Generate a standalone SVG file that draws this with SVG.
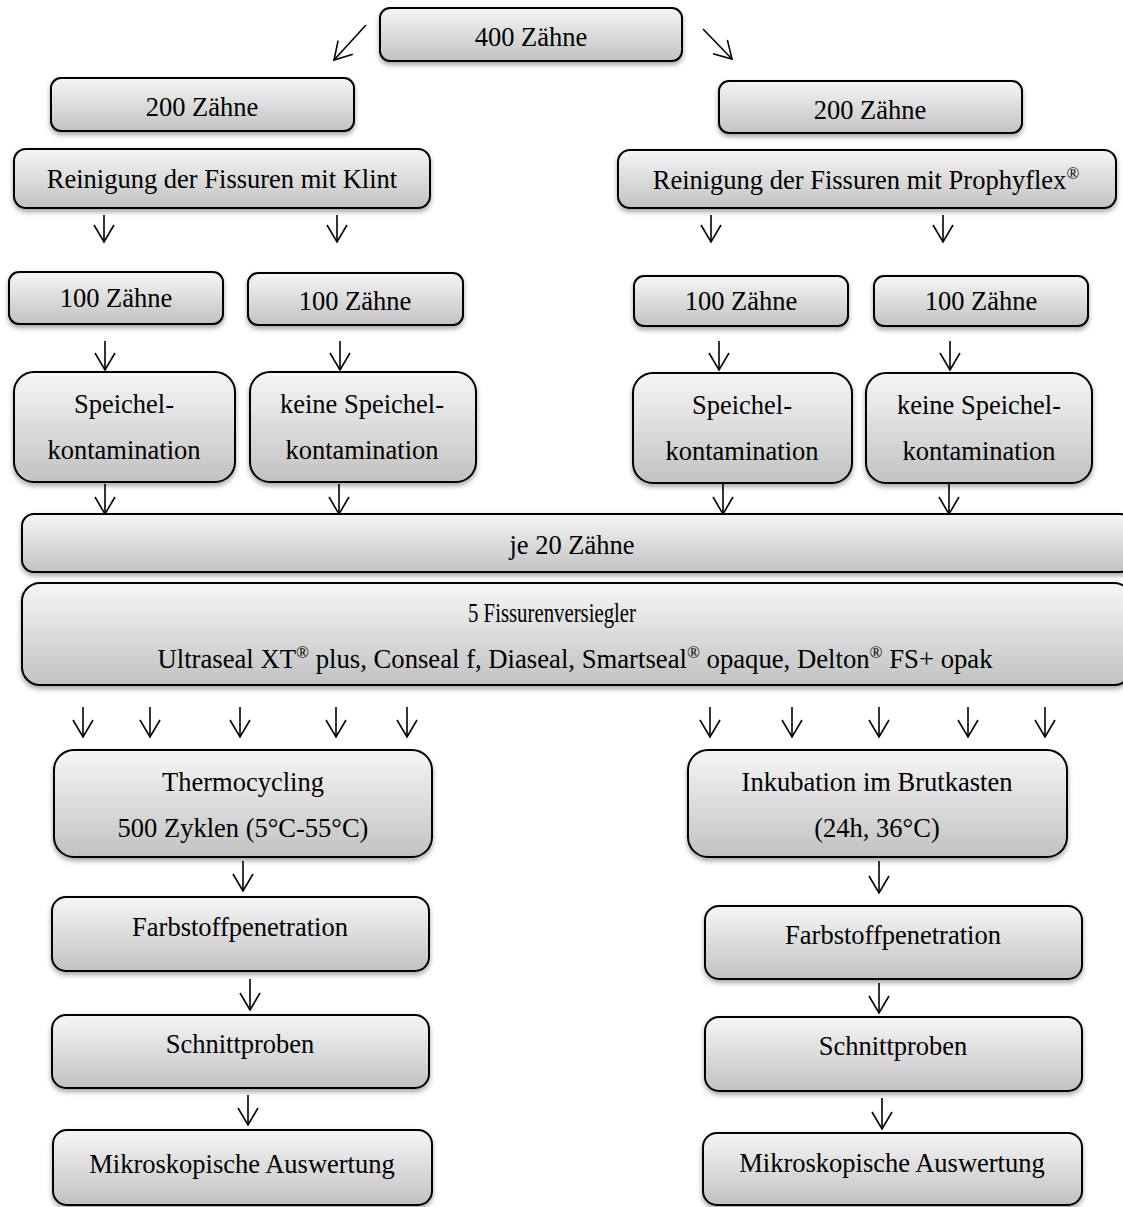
<svg xmlns="http://www.w3.org/2000/svg" width="1123" height="1207" viewBox="0 0 1123 1207">
<defs>
<linearGradient id="g" x1="0" y1="0" x2="0" y2="1">
<stop offset="0" stop-color="#f6f6f6"/>
<stop offset="1" stop-color="#c2c2c2"/>
</linearGradient>
<filter id="sh" x="-5%" y="-10%" width="110%" height="130%">
<feDropShadow dx="0" dy="3" stdDeviation="2.5" flood-color="#000" flood-opacity="0.35"/>
</filter>
<marker id="ah" viewBox="-1 -1 20 22" refX="17" refY="10" markerWidth="20" markerHeight="22" markerUnits="userSpaceOnUse" orient="auto">
<path d="M0,0 L17,10 L0,20" fill="none" stroke="#000" stroke-width="1.6"/>
</marker>
</defs>
<style>
.b{fill:url(#g);stroke:#000;stroke-width:2;filter:url(#sh)}
.t{font-family:"Liberation Serif","Times New Roman",serif;font-size:26.5px;fill:#000;text-anchor:middle}
.a{stroke:#000;stroke-width:1.6;fill:none;marker-end:url(#ah)}
.sup{font-size:17px}
</style>
<rect width="1123" height="1207" fill="#fff"/>
<g id="connectors">
<line class="a" x1="366" y1="25" x2="334" y2="60"/>
<line class="a" x1="703" y1="29" x2="732" y2="59"/>
<line class="a" x1="104" y1="215" x2="104" y2="242"/>
<line class="a" x1="337" y1="215" x2="337" y2="242"/>
<line class="a" x1="711" y1="215" x2="711" y2="242"/>
<line class="a" x1="943" y1="215" x2="943" y2="242"/>
<line class="a" x1="105" y1="341" x2="105" y2="370"/>
<line class="a" x1="340" y1="341" x2="340" y2="370"/>
<line class="a" x1="719" y1="341" x2="719" y2="370"/>
<line class="a" x1="950" y1="341" x2="950" y2="370"/>
<line class="a" x1="105" y1="484" x2="105" y2="514"/>
<line class="a" x1="339" y1="484" x2="339" y2="514"/>
<line class="a" x1="723" y1="484" x2="723" y2="514"/>
<line class="a" x1="949" y1="484" x2="949" y2="514"/>
<line class="a" x1="83" y1="707" x2="83" y2="737"/>
<line class="a" x1="150" y1="707" x2="150" y2="737"/>
<line class="a" x1="240" y1="707" x2="240" y2="737"/>
<line class="a" x1="336" y1="707" x2="336" y2="737"/>
<line class="a" x1="407" y1="707" x2="407" y2="737"/>
<line class="a" x1="710" y1="707" x2="710" y2="737"/>
<line class="a" x1="792" y1="707" x2="792" y2="737"/>
<line class="a" x1="879" y1="707" x2="879" y2="737"/>
<line class="a" x1="968" y1="707" x2="968" y2="737"/>
<line class="a" x1="1045" y1="707" x2="1045" y2="737"/>
<line class="a" x1="243" y1="861" x2="243" y2="891"/>
<line class="a" x1="879" y1="861" x2="879" y2="893"/>
<line class="a" x1="250" y1="979" x2="250" y2="1010"/>
<line class="a" x1="879" y1="983" x2="879" y2="1013"/>
<line class="a" x1="248" y1="1095" x2="248" y2="1125"/>
<line class="a" x1="882" y1="1098" x2="882" y2="1129"/>
</g>
<g id="n400"><rect class="b" x="380" y="8" width="302" height="53" rx="10"/><text class="t" x="531" y="46">400 Zähne</text></g>
<g id="n200l"><rect class="b" x="51" y="78" width="303" height="53" rx="10"/><text class="t" x="202" y="116">200 Zähne</text></g>
<g id="n200r"><rect class="b" x="719" y="81" width="303" height="52" rx="10"/><text class="t" x="870" y="119">200 Zähne</text></g>
<g id="reinl"><rect class="b" x="14" y="149" width="416" height="59" rx="12"/><text class="t" x="222" y="188">Reinigung der Fissuren mit Klint</text></g>
<g id="reinr"><rect class="b" x="618" y="150" width="498" height="58" rx="12"/><text class="t" x="866" y="189">Reinigung der Fissuren mit Prophyflex<tspan class="sup" dy="-10">®</tspan></text></g>
<g id="z100a"><rect class="b" x="9" y="272" width="214" height="52" rx="10"/><text class="t" x="116" y="307">100 Zähne</text></g>
<g id="z100b"><rect class="b" x="248" y="273" width="215" height="52" rx="10"/><text class="t" x="355" y="310">100 Zähne</text></g>
<g id="z100c"><rect class="b" x="634" y="276" width="214" height="50" rx="10"/><text class="t" x="741" y="310">100 Zähne</text></g>
<g id="z100d"><rect class="b" x="874" y="276" width="214" height="50" rx="10"/><text class="t" x="981" y="310">100 Zähne</text></g>
<g id="sp1"><rect class="b" x="14" y="372" width="221" height="110" rx="20"/><text class="t" x="124" y="413">Speichel-</text><text class="t" x="124" y="459">kontamination</text></g>
<g id="sp2"><rect class="b" x="250" y="372" width="226" height="110" rx="20"/><text class="t" x="362" y="413">keine Speichel-</text><text class="t" x="362" y="459">kontamination</text></g>
<g id="sp3"><rect class="b" x="633" y="373" width="219" height="110" rx="20"/><text class="t" x="742" y="414">Speichel-</text><text class="t" x="742" y="460">kontamination</text></g>
<g id="sp4"><rect class="b" x="866" y="373" width="226" height="110" rx="20"/><text class="t" x="979" y="414">keine Speichel-</text><text class="t" x="979" y="460">kontamination</text></g>
<g id="je20"><rect class="b" x="22" y="514" width="1110" height="58" rx="12"/><text class="t" x="572" y="554">je 20 Zähne</text></g>
<g id="fv"><rect class="b" x="22" y="583" width="1110" height="102" rx="18"/><text class="t" x="552" y="622" textLength="168" lengthAdjust="spacingAndGlyphs">5 Fissurenversiegler</text><text class="t" x="575" y="668" textLength="835" lengthAdjust="spacingAndGlyphs">Ultraseal XT<tspan class="sup" dy="-10">®</tspan><tspan dy="10"> plus, Conseal f, Diaseal, Smartseal</tspan><tspan class="sup" dy="-10">®</tspan><tspan dy="10"> opaque, Delton</tspan><tspan class="sup" dy="-10">®</tspan><tspan dy="10"> FS+ opak</tspan></text></g>
<g id="thermo"><rect class="b" x="54" y="750" width="378" height="107" rx="20"/><text class="t" x="243" y="791">Thermocycling</text><text class="t" x="243" y="837">500 Zyklen (5°C-55°C)</text></g>
<g id="inku"><rect class="b" x="688" y="750" width="379" height="107" rx="20"/><text class="t" x="877" y="791">Inkubation im Brutkasten</text><text class="t" x="877" y="837">(24h, 36°C)</text></g>
<g id="farbl"><rect class="b" x="52" y="897" width="377" height="74" rx="14"/><text class="t" x="240" y="936">Farbstoffpenetration</text></g>
<g id="farbr"><rect class="b" x="705" y="906" width="377" height="73" rx="14"/><text class="t" x="893" y="944">Farbstoffpenetration</text></g>
<g id="schnl"><rect class="b" x="52" y="1015" width="377" height="73" rx="14"/><text class="t" x="240" y="1053">Schnittproben</text></g>
<g id="schnr"><rect class="b" x="705" y="1017" width="377" height="74" rx="14"/><text class="t" x="893" y="1055">Schnittproben</text></g>
<g id="mikl"><rect class="b" x="53" y="1130" width="379" height="75" rx="14"/><text class="t" x="242" y="1173">Mikroskopische Auswertung</text></g>
<g id="mikr"><rect class="b" x="703" y="1133" width="379" height="72" rx="14"/><text class="t" x="892" y="1172">Mikroskopische Auswertung</text></g>
</svg>
